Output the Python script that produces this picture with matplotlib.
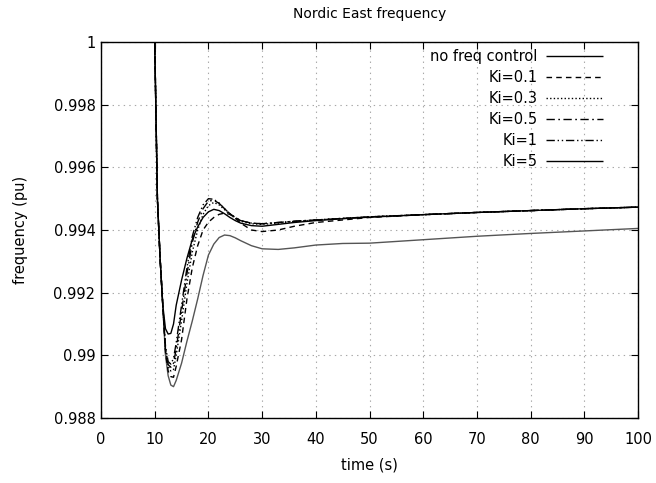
import matplotlib
matplotlib.use("Agg")
import matplotlib.pyplot as plt
from matplotlib.ticker import FuncFormatter, MultipleLocator

plt.rcParams['font.family'] = ['DejaVu Sans']
plt.rcParams['lines.scale_dashes'] = False

title = "Nordic East frequency"
xlabel = "time (s)"
ylabel = "frequency (pu)"

t = [0, 10, 10.5, 11, 11.5, 12, 12.5, 13, 13.5, 14, 15, 16, 17, 18, 19, 20, 21, 22,
     23, 24, 25, 26, 28, 30, 33, 36, 40, 45, 50, 60, 70, 80, 90, 100]

no_ctrl = [1.0, 1.0, 0.9950, 0.9931, 0.9916, 0.9900, 0.98935, 0.98905, 0.98900, 0.98920,
           0.98975, 0.99045, 0.99110, 0.99180, 0.99255, 0.99320, 0.99355, 0.99376,
           0.99384, 0.99382, 0.99375, 0.99366, 0.99350, 0.99340, 0.99338, 0.99343,
           0.99352, 0.99357, 0.99358, 0.99369, 0.99380, 0.99389, 0.99397, 0.99405]

ki_01 = [1.0, 1.0, 0.9950, 0.9931, 0.9916, 0.9901, 0.98950, 0.98932, 0.98930, 0.98965,
         0.99050, 0.99180, 0.99280, 0.99350, 0.99400, 0.99425, 0.99440, 0.99450,
         0.99454, 0.99450, 0.99438, 0.99422, 0.99400, 0.99395, 0.99400, 0.99412,
         0.99424, 0.99432, 0.99440, 0.99449, 0.99456, 0.99462, 0.99468, 0.99473]

ki_03 = [1.0, 1.0, 0.9950, 0.9931, 0.9916, 0.9902, 0.98965, 0.98950, 0.98955, 0.99000,
         0.99110, 0.99230, 0.99330, 0.99400, 0.99450, 0.99478, 0.99488, 0.99480,
         0.99465, 0.99450, 0.99437, 0.99428, 0.99420, 0.99418, 0.99422, 0.99427,
         0.99432, 0.99437, 0.99442, 0.99449, 0.99456, 0.99462, 0.99468, 0.99473]

ki_05 = [1.0, 1.0, 0.9950, 0.9931, 0.9916, 0.9902, 0.98970, 0.98962, 0.98975, 0.99020,
         0.99140, 0.99260, 0.99360, 0.99425, 0.99468, 0.99492, 0.99495, 0.99485,
         0.99468, 0.99452, 0.99440, 0.99430, 0.99422, 0.99420, 0.99424, 0.99428,
         0.99432, 0.99437, 0.99442, 0.99449, 0.99456, 0.99462, 0.99468, 0.99473]

ki_1 = [1.0, 1.0, 0.9950, 0.9931, 0.9916, 0.9903, 0.98980, 0.98972, 0.98990, 0.99040,
        0.99160, 0.99280, 0.99380, 0.99440, 0.99480, 0.99500, 0.99498, 0.99486,
        0.99468, 0.99452, 0.99440, 0.99430, 0.99422, 0.99420, 0.99424, 0.99428,
        0.99432, 0.99437, 0.99442, 0.99449, 0.99456, 0.99462, 0.99468, 0.99473]

ki_5 = [1.0, 1.0, 0.9950, 0.9931, 0.9916, 0.99085, 0.99068, 0.99070, 0.99100, 0.99160,
        0.99240, 0.99310, 0.99370, 0.99410, 0.99440, 0.99458, 0.99466, 0.99462,
        0.99452, 0.99440, 0.99430, 0.99422, 0.99414, 0.99412, 0.99418, 0.99424,
        0.99430, 0.99436, 0.99441, 0.99449, 0.99456, 0.99462, 0.99468, 0.99473]

labels = ["no freq control", "Ki=0.1", "Ki=0.3", "Ki=0.5", "Ki=1", "Ki=5"]
series = [no_ctrl, ki_01, ki_03, ki_05, ki_1, ki_5]
styles = [(0, ()), (0, (4, 3)), (0, (1, 1.6)), (0, (6, 2.5, 1.2, 2.5)),
          (0, (6, 2, 1, 2, 1, 2)), (0, ())]
colors = ["#555555", "black", "black", "black", "black", "black"]

fig = plt.figure(figsize=(6.56, 4.83), dpi=100)
ax = fig.add_axes([0.154, 0.1346, 0.8186, 0.7784])

for y, lab, ls, c in zip(series, labels, styles, colors):
    ax.plot(t, y, color=c, linestyle=ls, linewidth=1.0, label=lab)

ax.set_xlim(0, 100)
ax.set_ylim(0.988, 1.0)
ax.xaxis.set_major_locator(MultipleLocator(10))
ax.yaxis.set_major_locator(MultipleLocator(0.002))
ax.yaxis.set_major_formatter(FuncFormatter(lambda v, p: "%g" % round(v, 6)))
ax.tick_params(direction='in', length=5, width=0.8, top=True, right=True,
               labelsize=10.5)
ax.tick_params(axis='x', pad=10)
ax.tick_params(axis='y', pad=4)
ax.grid(True, color='#a8a8a8', linestyle=(0, (1, 3)), linewidth=0.8)
for s in ax.spines.values():
    s.set_linewidth(1.0)

ax.set_title(title, fontsize=10, pad=17)
ax.set_xlabel(xlabel, fontsize=10.5, labelpad=8)
ax.set_ylabel(ylabel, fontsize=10.5, labelpad=18)

handles, labs = ax.get_legend_handles_labels()
leg = ax.legend(handles, labs, loc='upper right', bbox_to_anchor=(0.935, 0.982),
                frameon=False, markerfirst=False, fontsize=10.5,
                handlelength=3.9, handletextpad=0.6, labelspacing=0.42,
                borderpad=0, borderaxespad=0)
for h in leg.get_lines():
    h.set_color('black')

fig.savefig("out.png", dpi=100)
